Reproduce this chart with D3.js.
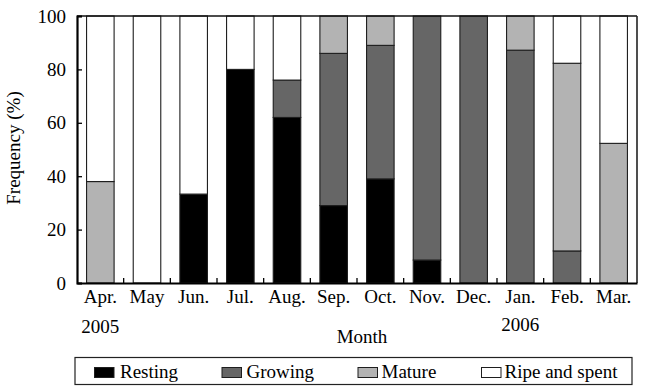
<!DOCTYPE html>
<html>
<head>
<meta charset="utf-8">
<script src="https://cdn.jsdelivr.net/npm/d3@7"></script>
<style>
  html, body { margin: 0; padding: 0; background: #fff; }
  svg { display: block; }
</style>
</head>
<body>
<svg id="chart" width="653" height="386"></svg>
<script>
// ---- data ----
const months = ["Apr.", "May", "Jun.", "Jul.", "Aug.", "Sep.", "Oct.", "Nov.", "Dec.", "Jan.", "Feb.", "Mar."];
const seriesNames = ["Resting", "Growing", "Mature", "Ripe and spent"];
const resting = [0, 0, 33.3, 80, 62, 29, 39, 8.6, 0, 0, 0, 0];
const growing = [0, 0, 0, 0, 14, 57, 50, 91.4, 100, 87.2, 12, 0];
const mature  = [38, 0, 0, 0, 0, 14, 11, 0, 0, 12.8, 70.3, 52.3];
const ripe    = [62, 100, 66.7, 20, 24, 0, 0, 0, 0, 0, 17.7, 47.7];
const yTicks = [0, 20, 40, 60, 80, 100];
const yearLabels = [{ month: "Apr.", label: "2005" }, { month: "Jan.", label: "2006" }];
const xTitle = "Month";
const yTitle = "Frequency (%)";

// ---- style ----
const colors = ["#000000", "#666666", "#b3b3b3", "#ffffff"];
const FONT = "'Liberation Serif', 'Times New Roman', Times, serif";
const FS = 19;

const svg = d3.select("#chart");
const plot = { left: 77, right: 637, top: 16, bottom: 283 };

const x = d3.scaleBand().domain(months).range([plot.left, plot.right])
  .paddingInner(0.41).paddingOuter(0.205);
const y = d3.scaleLinear().domain([0, 100]).range([plot.bottom, plot.top]);

const table = months.map((m, i) => ({
  month: m,
  "Resting": resting[i], "Growing": growing[i], "Mature": mature[i], "Ripe and spent": ripe[i]
}));
const stacked = d3.stack().keys(seriesNames)(table);

// bars
const g = svg.append("g");
stacked.forEach((layer, li) => {
  g.selectAll(null).data(layer).enter().append("rect")
    .attr("x", d => x(d.data.month))
    .attr("width", x.bandwidth())
    .attr("y", d => y(d[1]))
    .attr("height", d => y(d[0]) - y(d[1]))
    .attr("fill", colors[li])
    .attr("stroke", "#1e1e1e")
    .attr("stroke-width", 1.1);
});

// frame: top and right
svg.append("line").attr("x1", plot.left).attr("x2", plot.right)
  .attr("y1", plot.top).attr("y2", plot.top)
  .attr("stroke", "#111").attr("stroke-width", 1.4);
svg.append("line").attr("x1", plot.right).attr("x2", plot.right)
  .attr("y1", plot.top).attr("y2", plot.bottom)
  .attr("stroke", "#222").attr("stroke-width", 1.6);

// y axis
const yAxis = d3.axisLeft(y).tickValues(yTicks).tickSize(-5).tickPadding(11).tickFormat(d3.format("d"));
const gy = svg.append("g").attr("transform", `translate(${plot.left},0)`).call(yAxis);
gy.attr("font-family", null);
gy.select(".domain").attr("stroke", "#000").attr("stroke-width", 2.2);
gy.selectAll(".tick line").attr("stroke", "#000").attr("stroke-width", 1.3);
gy.selectAll(".tick text").style("font-family", FONT).style("font-size", FS + "px").attr("fill", "#000");

// x axis with ticks at band boundaries
const xAxis = d3.axisBottom(x).tickSize(0).tickPadding(10);
const gx = svg.append("g").attr("transform", `translate(0,${plot.bottom})`).call(xAxis);
gx.attr("font-family", null);
gx.select(".domain").attr("stroke", "#000").attr("stroke-width", 2.2);
gx.selectAll(".tick text").style("font-family", FONT).style("font-size", FS + "px")
  .attr("fill", "#000").attr("y", 20).attr("dy", 0);
const gap = (x.step() - x.bandwidth()) / 2;
gx.selectAll(".boundary").data(months.slice(1)).enter().append("line")
  .attr("x1", d => x(d) - gap)
  .attr("x2", d => x(d) - gap)
  .attr("y1", 0).attr("y2", -5)
  .attr("stroke", "#000").attr("stroke-width", 1.3);

// year labels
svg.selectAll(".year").data(yearLabels).enter().append("text")
  .attr("x", d => x(d.month) + x.bandwidth() / 2)
  .attr("y", (d, i) => i === 0 ? 333 : 331)
  .attr("text-anchor", "middle")
  .style("font-family", FONT).style("font-size", FS + "px")
  .text(d => d.label);

// x title
svg.append("text").attr("x", 362).attr("y", 343).attr("text-anchor", "middle")
  .style("font-family", FONT).style("font-size", FS + "px").text(xTitle);

// y title
svg.append("text").attr("transform", "rotate(-90)")
  .attr("x", -148).attr("y", 20).attr("text-anchor", "middle")
  .style("font-family", FONT).style("font-size", FS + "px").text(yTitle);

// legend
const legendBox = { x: 75, y: 357.5, w: 557, h: 27 };
svg.append("rect").attr("x", legendBox.x).attr("y", legendBox.y)
  .attr("width", legendBox.w).attr("height", legendBox.h)
  .attr("fill", "#fff").attr("stroke", "#222").attr("stroke-width", 1.2);
const swatchX = [94.5, 222, 358, 481.5];
const textX = [120, 246.5, 381.5, 504.5];
const lg = svg.append("g");
seriesNames.forEach((name, i) => {
  lg.append("rect").attr("x", swatchX[i]).attr("y", 367.5).attr("width", 19.5).attr("height", 10)
    .attr("fill", colors[i]).attr("stroke", "#1e1e1e").attr("stroke-width", 1);
  lg.append("text").attr("x", textX[i]).attr("y", 377.5)
    .style("font-family", FONT).style("font-size", FS + "px").text(name);
});
</script>
</body>
</html>
